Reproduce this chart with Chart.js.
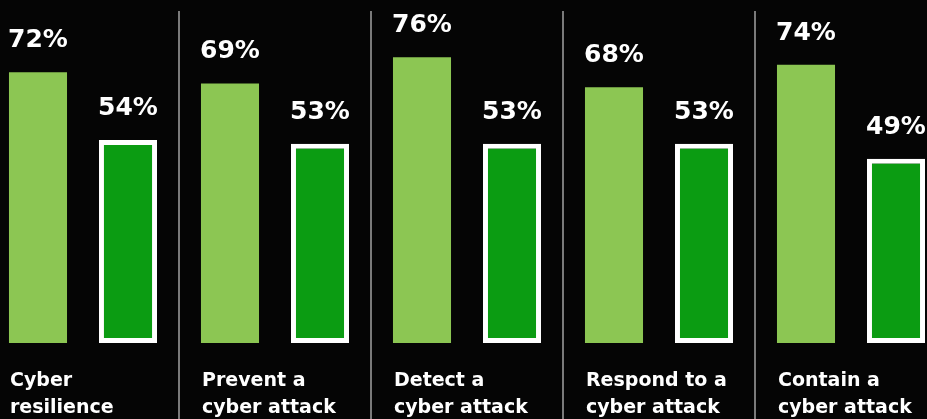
<!DOCTYPE html>
<html>
<head>
<meta charset="utf-8">
<script src="https://cdn.jsdelivr.net/npm/chart.js@4"></script>
<style>
    html, body { margin: 0; padding: 0; background: #050505; overflow: hidden; }
    .wrap { position: relative; width: 960px; height: 419px; margin-left: -13px; }
</style>
</head>
<body>
<div class="wrap"><canvas id="chart" width="960" height="419"></canvas></div>
<script>
const categories = [
    ['Cyber', 'resilience'],
    ['Prevent a', 'cyber attack'],
    ['Detect a', 'cyber attack'],
    ['Respond to a', 'cyber attack'],
    ['Contain a', 'cyber attack']
];
const firstValues = [72, 69, 76, 68, 74];
const secondValues = [54, 53, 53, 53, 49];

const LIGHT = '#8cc653';
const DARK = '#0b9c12';

const labelPlugin = {
    id: 'labels',
    afterDatasetsDraw(chart){
        const ctx = chart.ctx;
        const x = chart.scales.x;
        const area = chart.chartArea;
        const half = (x.getPixelForValue(1) - x.getPixelForValue(0)) / 2;

        ctx.save();
        // separators between groups
        ctx.strokeStyle = '#7a7a7a';
        ctx.lineWidth = 2;
        for(let i = 1; i < categories.length; i++){
            const px = Math.round(x.getPixelForValue(i) - half);
            ctx.beginPath();
            ctx.moveTo(px, 11);
            ctx.lineTo(px, chart.height);
            ctx.stroke();
        }

        // values above bars
        ctx.fillStyle = '#fff';
        ctx.textAlign = 'center';
        ctx.textBaseline = 'alphabetic';
        ctx.font = 'bold 25px "DejaVu Sans"';
        chart.data.datasets.forEach((ds, di) => {
            chart.getDatasetMeta(di).data.forEach((bar, i) => {
                ctx.fillText(ds.data[i] + '%', bar.x, bar.y - 25);
            });
        });

        // category labels, left aligned with first bar
        ctx.textAlign = 'left';
        ctx.font = '600 19px "DejaVu Sans"';
        const meta = chart.getDatasetMeta(0);
        categories.forEach((lines, i) => {
            const bar = meta.data[i];
            const left = bar.x - bar.width / 2 + 1;
            lines.forEach((line, li) => {
                ctx.fillText(line, left, area.bottom + 43 + li * 27);
            });
        });
        ctx.restore();
    }
};

new Chart(document.getElementById('chart'), {
    type: 'bar',
    data: {
        labels: categories,
        datasets: [
            {
                data: firstValues,
                backgroundColor: LIGHT,
                borderWidth: 0,
                categoryPercentage: 0.9375,
                barPercentage: 0.645
            },
            {
                data: secondValues,
                backgroundColor: DARK,
                borderColor: '#fff',
                borderWidth: 5,
                borderSkipped: false,
                categoryPercentage: 0.9375,
                barPercentage: 0.645
            }
        ]
    },
    options: {
        responsive: false,
        animation: false,
        devicePixelRatio: 1,
        layout: { padding: { top: 0, bottom: 76, left: 0, right: 0 } },
        plugins: { legend: { display: false }, tooltip: { enabled: false } },
        scales: {
            x: { display: false },
            y: { display: false, min: 0, max: 91.2 }
        }
    },
    plugins: [labelPlugin]
});
</script>
</body>
</html>
